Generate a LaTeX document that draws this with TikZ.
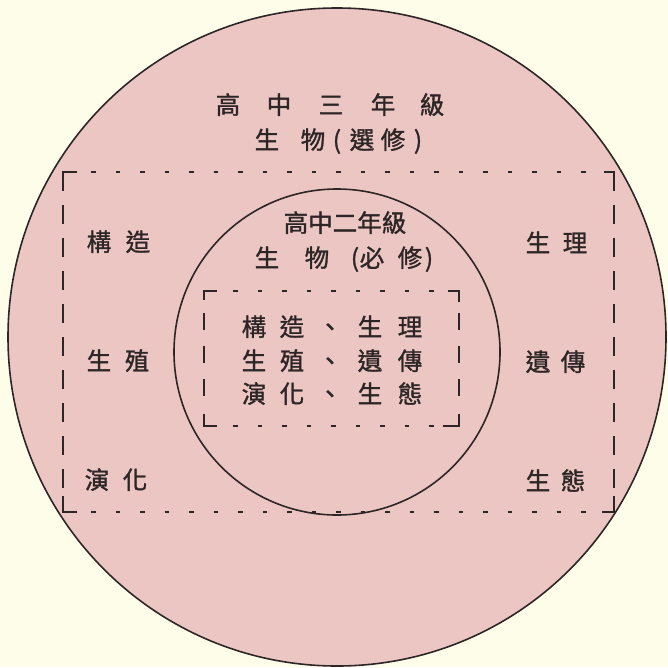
\documentclass[tikz,border=0pt]{standalone}
\usepackage{fontspec}
\newfontfamily\cjk[FakeBold=1.3]{Noto Sans CJK TC}
\definecolor{bgcream}{RGB}{253,253,233}
\definecolor{discpink}{RGB}{236,198,194}
\definecolor{ink}{RGB}{45,38,38}
\begin{document}
\begin{tikzpicture}[x=1pt,y=-1pt,
  lbl/.style={font=\cjk\fontsize{24.5}{24.5}\selectfont, text=ink, inner sep=0pt, text height=21pt, text depth=3pt},
  ring/.style={draw=ink, line width=1.6pt},
  hdash/.style={draw=ink, line width=1.5pt, dash pattern=on 4.5pt off 20pt},
  vdash/.style={draw=ink, line width=1.5pt, dash pattern=on 19pt off 14pt},
  corner/.style={draw=ink, line width=1.5pt}]
\fill[bgcream] (0,0) rectangle (668,667);
\useasboundingbox (0,0) rectangle (668,667);
% outer and inner discs
\draw[ring, fill=discpink] (337,337) circle[radius=329];
\draw[ring] (337,352) circle[radius=163];
% outer dashed frame (63,172)-(614,512)
\draw[hdash] (91,172) -- (604,172);
\draw[hdash] (91,512) -- (604,512);
\draw[vdash] (63,172) -- (63,512);
\draw[vdash] (614,172) -- (614,512);
\draw[corner] (77,172) -- (63,172) -- (63,190);
\draw[corner] (604,172) -- (614,172) -- (614,190);
\draw[corner] (77,512) -- (63,512) -- (63,496);
\draw[corner] (602,512) -- (614,512) -- (614,496);
% inner dashed frame (204,291)-(459,426)
\draw[hdash] (233,291) -- (446,291);
\draw[hdash] (233,426) -- (440,426);
\draw[vdash, dash pattern=on 17pt off 16pt] (204,313) -- (204,410);
\draw[vdash, dash pattern=on 17pt off 16pt] (459,313) -- (459,410);
\draw[corner] (217,291) -- (204,291) -- (204,300);
\draw[corner] (448,291) -- (459,291) -- (459,302);
\draw[corner] (217,426) -- (204,426) -- (204,414);
\draw[corner] (443,426) -- (459,426) -- (459,414);
% outer title
\foreach \t/\x [count=\i] in {高/228,中/279,三/331,年/383,級/432}
  \node[lbl] (ta\i) at (\x,105) {\t};
\foreach \t/\x [count=\i] in {生/267,物/313,{(}/337,選/362,修/393,{)}/418}
  \node[lbl] (tb\i) at (\x,140) {\t};
% inner title
\node[lbl] (tc) at (345,223) {高中二年級};
\foreach \t/\x [count=\i] in {生/267,物/317,{(}/355,必/372,修/410,{)}/429}
  \node[lbl] (td\i) at (\x,258) {\t};
% inner list
\foreach \t/\x [count=\i] in {構/254,造/292,、/330,生/370,理/410}
  \node[lbl] (ea\i) at (\x,327) {\t};
\foreach \t/\x [count=\i] in {生/254,殖/292,、/330,遺/370,傳/410}
  \node[lbl] (eb\i) at (\x,361) {\t};
\foreach \t/\x [count=\i] in {演/254,化/292,、/330,生/370,態/410}
  \node[lbl] (ec\i) at (\x,394) {\t};
% outer side labels
\foreach \t/\x [count=\i] in {構/99,造/138}  \node[lbl] (la\i) at (\x,242) {\t};
\foreach \t/\x [count=\i] in {生/99,殖/137}  \node[lbl] (lb\i) at (\x,361) {\t};
\foreach \t/\x [count=\i] in {演/97,化/135}  \node[lbl] (lc\i) at (\x,480) {\t};
\foreach \t/\x [count=\i] in {生/538,理/575} \node[lbl] (ra\i) at (\x,243) {\t};
\foreach \t/\x [count=\i] in {遺/538,傳/573} \node[lbl] (rb\i) at (\x,362) {\t};
\foreach \t/\x [count=\i] in {生/538,態/573} \node[lbl] (rc\i) at (\x,481) {\t};
\end{tikzpicture}
\end{document}
